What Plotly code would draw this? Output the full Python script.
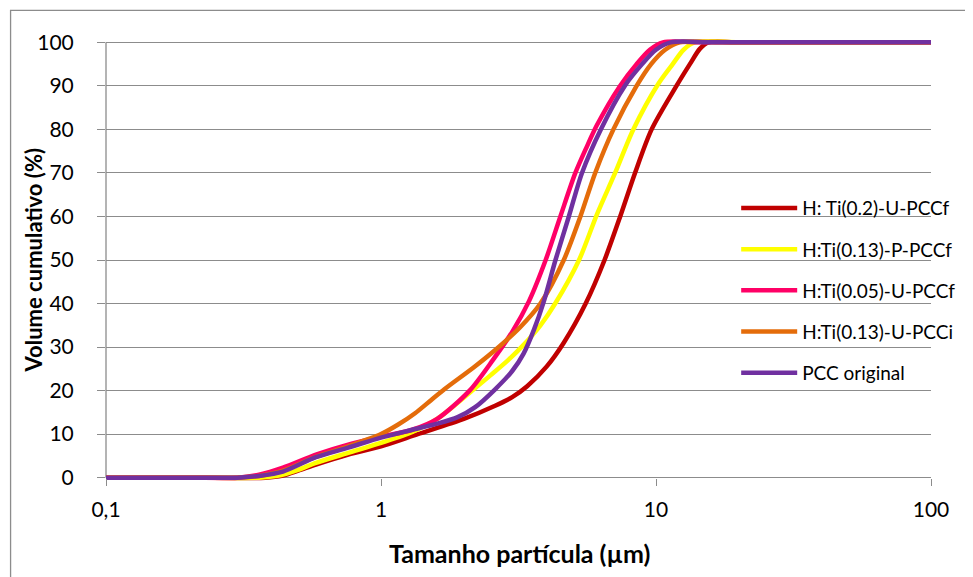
import plotly.graph_objects as go

# ---- data (particle size in µm, cumulative volume in %) ----
red_name = "H: Ti(0.2)-U-PCCf"
red_x = [0.1, 0.2, 0.38, 0.44, 0.5, 0.58, 0.76, 1.0, 1.36, 2.0, 2.6, 3.0, 3.4, 4.0, 4.62, 5.55, 6.5, 7.41, 8.39, 9.64, 11.87, 13.28, 14.43, 15.5, 20, 40, 100]
red_y = [0, 0, 0, 0.5, 1.6, 3.0, 5.3, 7.2, 10.0, 13.5, 16.5, 18.5, 21, 25.5, 31, 40, 50, 60, 70, 80, 90, 95, 98.5, 100, 100, 100, 100]

yel_name = "H:Ti(0.13)-P-PCCf"
yel_x = [0.1, 0.2, 0.36, 0.42, 0.5, 0.58, 0.76, 1.0, 1.3, 1.6, 2.1, 2.5, 2.9, 3.3, 3.8, 4.3, 5.25, 6.1, 7.1, 8.27, 10.2, 11.5, 12.6, 13.8, 20, 40, 100]
yel_y = [0, 0, 0, 0.4, 1.8, 3.4, 5.7, 8.0, 10.5, 13.5, 19.5, 23.5, 27, 30.5, 35, 40, 50, 60.5, 70, 80, 90.5, 95, 98.3, 100, 100, 100, 100]

pink_name = "H:Ti(0.05)-U-PCCf"
pink_x = [0.1, 0.2, 0.3, 0.36, 0.44, 0.58, 0.76, 1.0, 1.3, 1.6, 2.1, 2.55, 3.0, 3.45, 3.97, 4.49, 5.09, 5.6, 6.1, 7.4, 8.5, 9.5, 10.6, 15, 30, 100]
pink_y = [0, 0, 0, 0.7, 2.3, 5.3, 7.6, 9.4, 11.0, 13.5, 20, 27, 33.5, 40.5, 50, 60, 70, 76, 81, 90, 95, 98.3, 100, 100, 100, 100]

org_name = "H:Ti(0.13)-U-PCCi"
org_x = [0.1, 0.2, 0.3, 0.36, 0.44, 0.58, 0.76, 1.0, 1.155, 1.33, 1.52, 1.7, 2.2, 2.7, 3.2, 3.8, 4.62, 5.31, 6.01, 7.0, 8.5, 9.6, 10.8, 12.2, 18, 35, 100]
org_y = [0, 0, 0, 0.4, 1.6, 4.8, 7.2, 10.0, 12.2, 14.8, 17.8, 20.3, 25.6, 30.2, 34.5, 40, 50, 60, 70, 80, 90, 95, 98.3, 100, 100, 100, 100]

pur_name = "PCC original"
pur_x = [0.1, 0.2, 0.3, 0.36, 0.44, 0.58, 0.76, 1.0, 1.3, 1.6, 1.9, 2.2, 2.6, 3.0, 3.3, 3.6, 3.91, 4.31, 4.82, 5.38, 6.3, 7.7, 8.9, 10.0, 11.3, 16, 30, 100]
pur_y = [0, 0, 0, 0.4, 1.4, 4.7, 6.9, 9.2, 11.0, 12.4, 13.9, 16.2, 20.3, 24.5, 28.5, 34, 40.5, 50, 60, 70, 80, 90, 95, 98.3, 100, 100, 100, 100]

x_tickvals = [0.1, 1, 10, 100]
x_ticktext = ["0,1", "1", "10", "100"]
y_tickvals = [0, 10, 20, 30, 40, 50, 60, 70, 80, 90, 100]

x_title = "Tamanho partícula (µm)"
y_title = "Volume cumulativo (%)"

series = [
    (red_name, red_x, red_y, "#C00000"),
    (yel_name, yel_x, yel_y, "#FFFF00"),
    (pink_name, pink_x, pink_y, "#FF0066"),
    (org_name, org_x, org_y, "#E46C0A"),
    (pur_name, pur_x, pur_y, "#7030A0"),
]

FONT = "Lato"
GRID = "#8c8c8c"

fig = go.Figure()
for i, (name, xs, ys, col) in enumerate(series):
    fig.add_trace(go.Scatter(
        x=xs, y=ys, name=name, mode="lines",
        line=dict(color=col, width=4.5, shape="spline", smoothing=0.8),
        legendgroup=f"g{i}",
    ))

# The page body has an 8 px margin, so the figure is 8 px smaller and
# all pixel positions below are relative to the figure origin (screen - 8).
W, H = 965, 569
pad = 1.0
ppu = 4.36            # px per % unit
left, right = 98, 928  # x = 0.1 and x = 100
y0px, y100px = 470, 34
t = y100px - pad * ppu
b = H - y0px - pad * ppu
plot_h = H - t - b
plot_w = right - left


def px_to_paper_x(px):
    return (px - left) / plot_w


def px_to_paper_y(py):
    return (H - b - py) / plot_h


fig.update_layout(
    width=W, height=H,
    margin=dict(l=left, r=W - right, t=t, b=b),
    paper_bgcolor="white", plot_bgcolor="white",
    font=dict(family=FONT, color="#000000"),
    showlegend=True,
    legend=dict(
        x=px_to_paper_x(732), y=px_to_paper_y(181), xanchor="left", yanchor="top",
        bgcolor="rgba(255,255,255,0)",
        font=dict(family=FONT, size=19, color="#000000"),
        tracegroupgap=13.5,
        itemwidth=56,
    ),
    xaxis=dict(
        type="log", range=[-1, 2],
        tickvals=x_tickvals, ticktext=x_ticktext,
        showgrid=False, zeroline=False, showline=False,
        ticks="outside", ticklen=7, tickcolor=GRID, tickwidth=1.3,
        tickfont=dict(family=FONT, size=21, color="#000000"),
        ticklabelstandoff=6,
        anchor="free", position=pad / (100 + 2 * pad),
    ),
    yaxis=dict(
        range=[-pad, 100 + pad],
        tickvals=y_tickvals,
        showgrid=True, gridcolor=GRID, gridwidth=1.3,
        zeroline=False, showline=False,
        ticks="outside", ticklen=8, tickcolor=GRID, tickwidth=1.3,
        tickfont=dict(family=FONT, size=21, color="#000000"),
        ticklabelstandoff=19,
    ),
    shapes=[
        # y-axis line
        dict(type="line", xref="x domain", x0=0, x1=0, yref="y", y0=0, y1=100,
             line=dict(color=GRID, width=1.3), layer="below"),
        # outer chart border
        dict(type="rect", xref="paper", yref="paper",
             x0=px_to_paper_x(2), x1=1.2, y0=-0.3, y1=px_to_paper_y(2),
             line=dict(color=GRID, width=1.3), layer="below"),
    ],
    annotations=[
        dict(text=f"<b>{x_title}</b>", xref="paper", yref="paper",
             x=px_to_paper_x(514), y=px_to_paper_y(545),
             showarrow=False, xanchor="center", yanchor="middle",
             font=dict(family=FONT, size=25, color="#000000")),
        dict(text=f"<b>{y_title}</b>", xref="paper", yref="paper",
             x=px_to_paper_x(25), y=px_to_paper_y(252), textangle=-90,
             showarrow=False, xanchor="center", yanchor="middle",
             font=dict(family=FONT, size=22, color="#000000")),
    ],
)

fig.write_html("out.html")
